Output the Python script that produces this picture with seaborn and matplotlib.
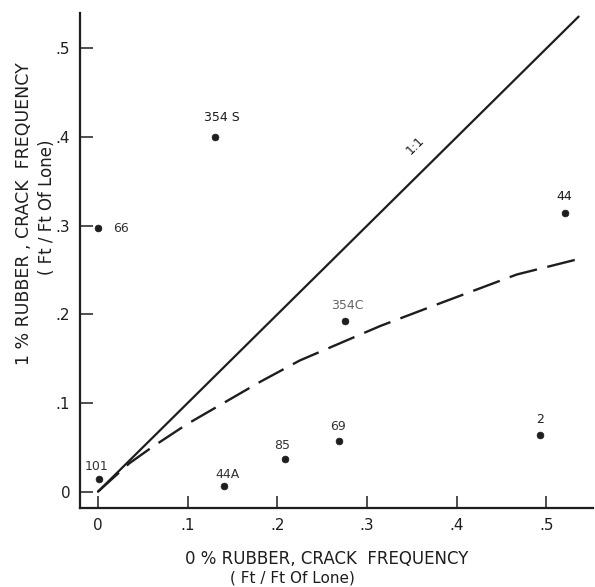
import matplotlib
matplotlib.use("Agg")
import matplotlib.pyplot as plt
import seaborn as sns
import pandas as pd

# Crack frequency per section: 0 % rubber (x) vs 1 % rubber (y)
sections = ["66", "354 S", "101", "44A", "85", "69", "354C", "44", "2"]
freq_0pct = [0.000, 0.130, 0.001, 0.141, 0.209, 0.269, 0.276, 0.521, 0.493]
freq_1pct = [0.297, 0.400, 0.014, 0.006, 0.037, 0.057, 0.193, 0.314, 0.064]
label_offsets = [(23, 0), (7, 20), (-2, 13), (3, 12), (-3, 13),
                 (-1, 15), (2, 15), (-1, 17), (0, 15)]
label_colors = ["#333333", "#1a1a1a", "#333333", "#333333", "#333333",
                "#333333", "#666666", "#1a1a1a", "#222222"]

# Equality line
eq_x = [0.0, 0.536]
eq_y = [0.0, 0.536]

# Trend curve
trend_x = [0.0, 0.035, 0.060, 0.099, 0.140, 0.181, 0.225, 0.315, 0.380, 0.467, 0.534]
trend_y = [0.0, 0.032, 0.050, 0.076, 0.100, 0.124, 0.148, 0.187, 0.212, 0.245, 0.262]

x_ticks = [0.0, 0.1, 0.2, 0.3, 0.4, 0.5]
x_ticklabels = ["0", ".1", ".2", ".3", ".4", ".5"]
y_ticks = [0.0, 0.1, 0.2, 0.3, 0.4, 0.5]
y_ticklabels = ["0", ".1", ".2", ".3", ".4", ".5"]

pts = pd.DataFrame({"x": freq_0pct, "y": freq_1pct, "section": sections})
eq = pd.DataFrame({"x": eq_x, "y": eq_y})
trend = pd.DataFrame({"x": trend_x, "y": trend_y})

sns.set_theme(style="ticks")
plt.rcParams["font.family"] = ["DejaVu Sans"]

ink = "#1e1e1e"
fig = plt.figure(figsize=(5.95, 5.87), dpi=100)
ax = fig.add_axes([80 / 595, (587 - 508) / 587, (593 - 80) / 595, (508 - 13) / 587])

sns.lineplot(data=eq, x="x", y="y", ax=ax, color=ink, linewidth=1.6, sort=False)
trend_line = sns.lineplot(data=trend, x="x", y="y", ax=ax, color=ink,
                          linewidth=1.7, sort=False).lines[-1]
trend_line.set_dashes((12, 4.5))
sns.scatterplot(data=pts, x="x", y="y", ax=ax, color=ink, s=24,
                edgecolor=ink, linewidth=0.5, zorder=5)

for name, px, py, off, col in zip(sections, freq_0pct, freq_1pct,
                                  label_offsets, label_colors):
    ax.annotate(name, (px, py), xytext=(off[0], off[1]),
                textcoords="offset pixels", ha="center", va="center",
                fontsize=9, color=col)

ax.text(0.354, 0.391, "1:1", rotation=45, ha="center", va="center",
        fontsize=9, color=ink)

ax.set_xlim(-0.020, 0.552)
ax.set_ylim(-0.0184, 0.540)
ax.set_xticks(x_ticks)
ax.set_xticklabels(x_ticklabels)
ax.set_yticks(y_ticks)
ax.set_yticklabels(y_ticklabels)
ax.tick_params(direction="in", length=9, width=1.1, colors=ink,
               labelsize=11, pad=7)
ax.set_xlabel("")
ax.set_ylabel("")
sns.despine(ax=ax)
for side in ("left", "bottom"):
    ax.spines[side].set_linewidth(1.6)
    ax.spines[side].set_color(ink)

# Axis titles, two lines each
fig.text(327 / 595, 1 - 559 / 587, "0 % RUBBER, CRACK  FREQUENCY",
         ha="center", va="center", fontsize=12, color=ink)
fig.text(292 / 595, 1 - 578 / 587, "( Ft / Ft Of Lone)",
         ha="center", va="center", fontsize=11, color=ink)
fig.text(24 / 595, 1 - 214 / 587, "1 % RUBBER , CRACK  FREQUENCY",
         ha="center", va="center", rotation=90, fontsize=12.5, color=ink)
fig.text(47 / 595, 1 - 207 / 587, "( Ft / Ft Of Lone)",
         ha="center", va="center", rotation=90, fontsize=12, color=ink)

fig.savefig("out.png", dpi=100, facecolor="white")
